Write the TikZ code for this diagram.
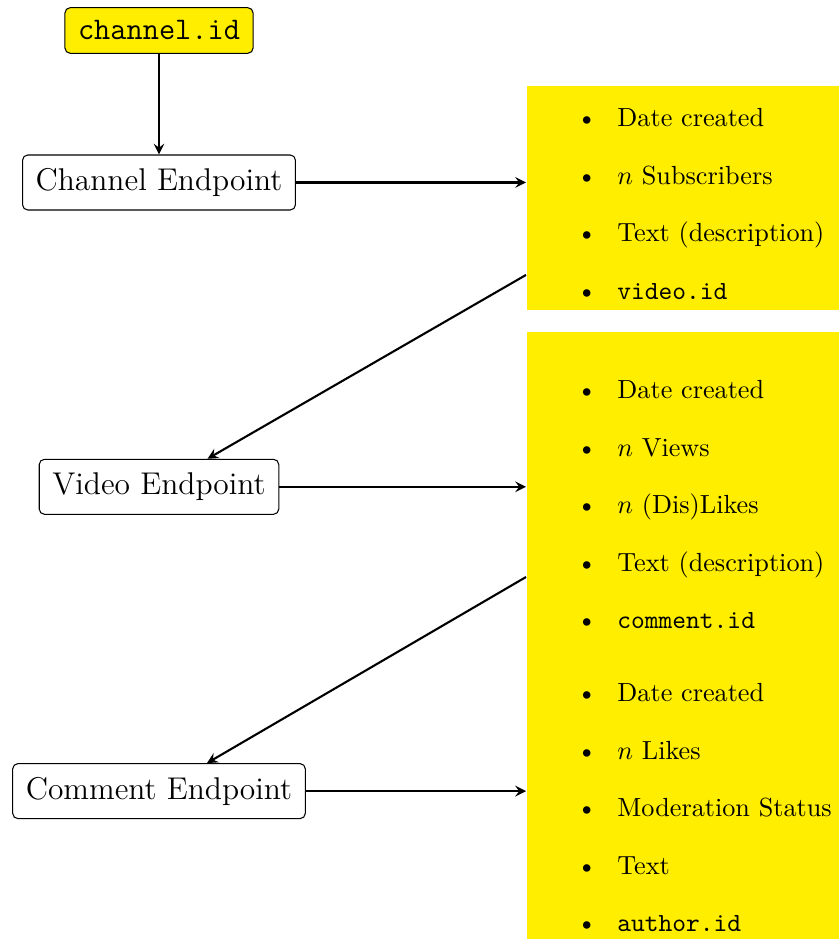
\documentclass[tikz,border=0pt]{standalone}
\usepackage{amsmath}
\usepackage{xcolor}
\usepackage{enumitem}
\usepackage{tikz}
\usetikzlibrary{positioning}

\definecolor{infoyellow}{RGB}{255,238,0}
\setlist[itemize]{leftmargin=34.7pt, labelsep=7.8pt, itemsep=9.95pt, parsep=0pt, topsep=0pt, partopsep=0pt}
\newcommand{\listpad}[1]{\par\vspace*{#1}\hrule height 0pt width 0pt}

\begin{document}
\begin{tikzpicture}[
    >=stealth,
    node distance=3.33cm,
    endpoint/.style={draw, rounded corners=2pt, font=\large, inner sep=5pt, minimum height=21pt},
    idbox/.style={draw, fill=infoyellow, rounded corners=2pt, font=\large\ttfamily, inner sep=5pt, minimum height=17pt},
    infolist/.style={fill=infoyellow, text width=121pt, inner xsep=0pt, inner ysep=0pt, anchor=north west},
    arrow/.style={->, thick}
]
    \useasboundingbox (-2.133,-10.148) rectangle (9.121,2.448);

    \node[endpoint] (chan) {Channel Endpoint};
    \node[idbox, above=1.35cm of chan] (chanid) {channel.id};
    \node[endpoint, below=of chan] (video) {Video Endpoint};
    \node[endpoint, below=of video] (comment) {Comment Endpoint};

    \node[infolist] (chaninfo) at (4.923,1.308) {\vspace*{3.8pt}
        \begin{itemize}
            \item Date created
            \item $n$ Subscribers
            \item Text (description)
            \item \texttt{video.id}
        \end{itemize}\listpad{3.8pt}};
    \node[infolist] (videoinfo) at (4.923,-1.992) {\vspace*{13.7pt}
        \begin{itemize}
            \item Date created
            \item $n$ Views
            \item $n$ (Dis)Likes
            \item Text (description)
            \item \texttt{comment.id}
        \end{itemize}\listpad{13.7pt}};
    \node[infolist] (commentinfo) at (4.923,-6.405) {\vspace*{3.8pt}
        \begin{itemize}
            \item Date created
            \item $n$ Likes
            \item Moderation Status
            \item Text
            \item \texttt{author.id}
        \end{itemize}\listpad{3.8pt}};

    \draw[arrow] (chanid) -- (chan);
    \draw[arrow] (chan) -- (chan -| chaninfo.west);
    \draw[arrow] (video) -- (video -| videoinfo.west);
    \draw[arrow] (comment) -- (comment -| commentinfo.west);
    \draw[arrow] ([yshift=-72.5pt]chaninfo.north west) -- (video);
    \draw[arrow] ([yshift=-93.9pt]videoinfo.north west) -- (comment);
\end{tikzpicture}
\end{document}
